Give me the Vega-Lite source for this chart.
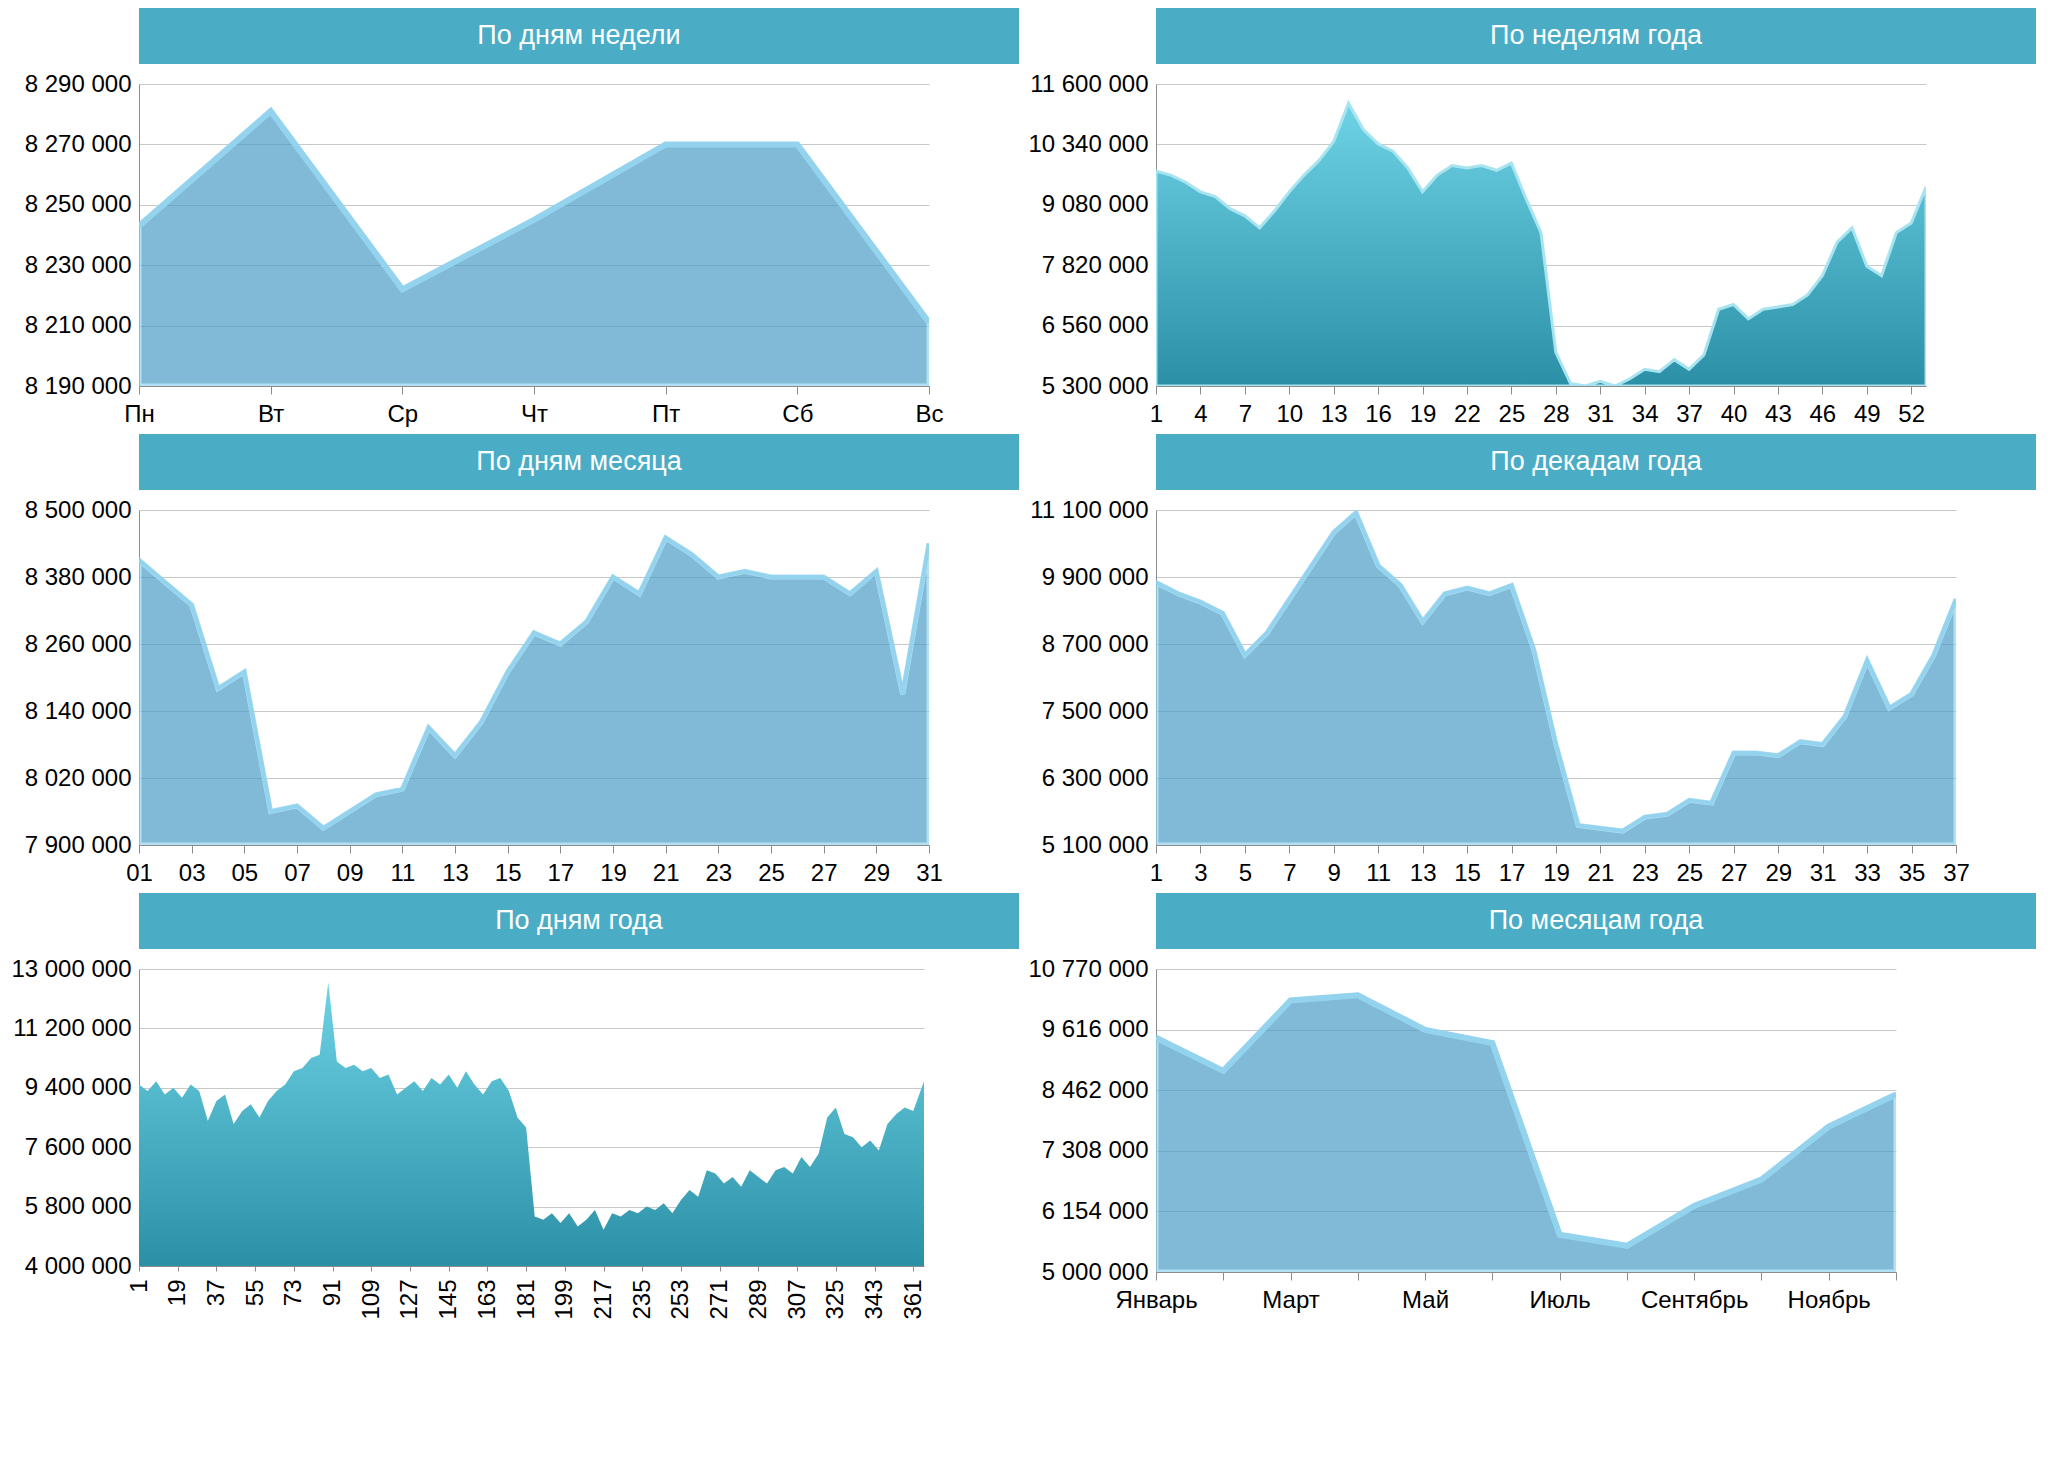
{
  "$schema": "https://vega.github.io/schema/vega-lite/v6.json",
  "background": "white",
  "padding": {"left": 10, "top": 8, "right": 5, "bottom": 5},
  "config": {
    "locale": {"number": {"decimal": ",", "thousands": " ", "grouping": [3], "currency": ["", ""]}},
    "font": "Liberation Sans",
    "view": {"stroke": null},
    "axis": {"labelFont": "Liberation Sans", "labelFontSize": 24, "labelColor": "#000", "title": null, "domainColor": "#8c8c8c", "tickColor": "#8c8c8c", "gridColor": "#c8c8c8", "labelPadding": 8},
    "axisY": {"format": ",d", "ticks": false, "domain": true},
    "axisX": {"grid": false, "tickSize": 8},
    "area": {"fill": "#4b9dc6", "stroke": "#93d3ee", "strokeWidth": 5, "clip": true, "opacity": 1, "fillOpacity": 1},
    "concat": {"spacing": 8}
  },
  "hconcat": [
    {
      "spacing": 8,
      "vconcat": [
        {"width": 880, "height": 56, "view": {"fill": "#4bacc6"}, "data": {"values": [{"t": "По дням недели"}]}, "mark": {"type": "text", "color": "white", "fontSize": 27}, "encoding": {"text": {"field": "t"}}},
        {
          "width": 790, "height": 302,
          "data": {"values": [
            {"d": "Пн", "v": 8243000}, {"d": "Вт", "v": 8281000}, {"d": "Ср", "v": 8222000}, {"d": "Чт", "v": 8245000},
            {"d": "Пт", "v": 8270000}, {"d": "Сб", "v": 8270000}, {"d": "Вс", "v": 8211000}]},
          "mark": {"type": "area", "clip": true, "line": {"stroke": "#93d3ee", "strokeWidth": 6}},
          "encoding": {
            "x": {"field": "d", "type": "ordinal", "sort": null, "scale": {"type": "point", "padding": 0}, "axis": {"labelAngle": 0}},
            "y": {"field": "v", "type": "quantitative", "stack": null, "scale": {"domain": [8190000, 8290000], "zero": false}, "axis": {"values": [8190000, 8210000, 8230000, 8250000, 8270000, 8290000]}}
          }
        },
        {"width": 880, "height": 56, "view": {"fill": "#4bacc6"}, "data": {"values": [{"t": "По дням месяца"}]}, "mark": {"type": "text", "color": "white", "fontSize": 27}, "encoding": {"text": {"field": "t"}}},
        {
          "width": 790, "height": 335,
          "data": {"values": [
            {"d": 1, "v": 8410000}, {"d": 2, "v": 8370000}, {"d": 3, "v": 8330000}, {"d": 4, "v": 8180000}, {"d": 5, "v": 8210000},
            {"d": 6, "v": 7960000}, {"d": 7, "v": 7970000}, {"d": 8, "v": 7930000}, {"d": 9, "v": 7960000}, {"d": 10, "v": 7990000},
            {"d": 11, "v": 8000000}, {"d": 12, "v": 8110000}, {"d": 13, "v": 8060000}, {"d": 14, "v": 8120000}, {"d": 15, "v": 8210000},
            {"d": 16, "v": 8280000}, {"d": 17, "v": 8260000}, {"d": 18, "v": 8300000}, {"d": 19, "v": 8380000}, {"d": 20, "v": 8350000},
            {"d": 21, "v": 8450000}, {"d": 22, "v": 8420000}, {"d": 23, "v": 8380000}, {"d": 24, "v": 8390000}, {"d": 25, "v": 8380000},
            {"d": 26, "v": 8380000}, {"d": 27, "v": 8380000}, {"d": 28, "v": 8350000}, {"d": 29, "v": 8390000}, {"d": 30, "v": 8170000},
            {"d": 31, "v": 8440000}]},
          "mark": {"type": "area", "clip": true, "line": {"stroke": "#93d3ee", "strokeWidth": 4}},
          "encoding": {
            "x": {"field": "d", "type": "quantitative", "scale": {"domain": [1, 31], "nice": false}, "axis": {"values": [1, 3, 5, 7, 9, 11, 13, 15, 17, 19, 21, 23, 25, 27, 29, 31], "labelExpr": "datum.value < 10 ? '0' + datum.value : '' + datum.value", "labelFlush": false}},
            "y": {"field": "v", "type": "quantitative", "stack": null, "scale": {"domain": [7900000, 8500000], "zero": false}, "axis": {"values": [7900000, 8020000, 8140000, 8260000, 8380000, 8500000]}}
          }
        },
        {"width": 880, "height": 56, "view": {"fill": "#4bacc6"}, "data": {"values": [{"t": "По дням года"}]}, "mark": {"type": "text", "color": "white", "fontSize": 27}, "encoding": {"text": {"field": "t"}}},
        {
          "width": 785, "height": 297,
          "data": {"values": [
            {"d": 1, "v": 9500000}, {"d": 5, "v": 9300000}, {"d": 9, "v": 9600000}, {"d": 13, "v": 9200000}, {"d": 17, "v": 9400000},
            {"d": 21, "v": 9100000}, {"d": 25, "v": 9500000}, {"d": 29, "v": 9300000}, {"d": 33, "v": 8400000}, {"d": 37, "v": 9000000},
            {"d": 41, "v": 9200000}, {"d": 45, "v": 8300000}, {"d": 49, "v": 8700000}, {"d": 53, "v": 8900000}, {"d": 57, "v": 8500000},
            {"d": 61, "v": 9000000}, {"d": 65, "v": 9300000}, {"d": 69, "v": 9500000}, {"d": 73, "v": 9900000}, {"d": 77, "v": 10000000},
            {"d": 81, "v": 10300000}, {"d": 85, "v": 10400000}, {"d": 89, "v": 12600000}, {"d": 93, "v": 10200000}, {"d": 97, "v": 10000000},
            {"d": 101, "v": 10100000}, {"d": 105, "v": 9900000}, {"d": 109, "v": 10000000}, {"d": 113, "v": 9700000}, {"d": 117, "v": 9800000},
            {"d": 121, "v": 9200000}, {"d": 125, "v": 9400000}, {"d": 129, "v": 9600000}, {"d": 133, "v": 9300000}, {"d": 137, "v": 9700000},
            {"d": 141, "v": 9500000}, {"d": 145, "v": 9800000}, {"d": 149, "v": 9400000}, {"d": 153, "v": 9900000}, {"d": 157, "v": 9500000},
            {"d": 161, "v": 9200000}, {"d": 165, "v": 9600000}, {"d": 169, "v": 9700000}, {"d": 173, "v": 9300000}, {"d": 177, "v": 8500000},
            {"d": 181, "v": 8200000}, {"d": 185, "v": 5500000}, {"d": 189, "v": 5400000}, {"d": 193, "v": 5600000}, {"d": 197, "v": 5300000},
            {"d": 201, "v": 5600000}, {"d": 205, "v": 5200000}, {"d": 209, "v": 5400000}, {"d": 213, "v": 5700000}, {"d": 217, "v": 5100000},
            {"d": 221, "v": 5600000}, {"d": 225, "v": 5500000}, {"d": 229, "v": 5700000}, {"d": 233, "v": 5600000}, {"d": 237, "v": 5800000},
            {"d": 241, "v": 5700000}, {"d": 245, "v": 5900000}, {"d": 249, "v": 5600000}, {"d": 253, "v": 6000000}, {"d": 257, "v": 6300000},
            {"d": 261, "v": 6100000}, {"d": 265, "v": 6900000}, {"d": 269, "v": 6800000}, {"d": 273, "v": 6500000}, {"d": 277, "v": 6700000},
            {"d": 281, "v": 6400000}, {"d": 285, "v": 6900000}, {"d": 289, "v": 6700000}, {"d": 293, "v": 6500000}, {"d": 297, "v": 6900000},
            {"d": 301, "v": 7000000}, {"d": 305, "v": 6800000}, {"d": 309, "v": 7300000}, {"d": 313, "v": 7000000}, {"d": 317, "v": 7400000},
            {"d": 321, "v": 8500000}, {"d": 325, "v": 8800000}, {"d": 329, "v": 8000000}, {"d": 333, "v": 7900000}, {"d": 337, "v": 7600000},
            {"d": 341, "v": 7800000}, {"d": 345, "v": 7500000}, {"d": 349, "v": 8300000}, {"d": 353, "v": 8600000}, {"d": 357, "v": 8800000},
            {"d": 361, "v": 8700000}, {"d": 366, "v": 9600000}]},
          "mark": {"type": "area", "clip": true, "stroke": null, "fill": {"gradient": "linear", "x1": 0, "y1": 0, "x2": 0, "y2": 1, "stops": [{"offset": 0, "color": "#6fd3e6"}, {"offset": 1, "color": "#2b8fa6"}]}},
          "encoding": {
            "x": {"field": "d", "type": "quantitative", "scale": {"domain": [1, 366], "nice": false}, "axis": {"values": [1, 19, 37, 55, 73, 91, 109, 127, 145, 163, 181, 199, 217, 235, 253, 271, 289, 307, 325, 343, 361], "labelAngle": -90, "labelFlush": false, "tickSize": 5}},
            "y": {"field": "v", "type": "quantitative", "stack": null, "scale": {"domain": [4000000, 13000000], "zero": false}, "axis": {"values": [4000000, 5800000, 7600000, 9400000, 11200000, 13000000]}}
          }
        }
      ]
    },
    {
      "spacing": 8,
      "vconcat": [
        {"width": 880, "height": 56, "view": {"fill": "#4bacc6"}, "data": {"values": [{"t": "По неделям года"}]}, "mark": {"type": "text", "color": "white", "fontSize": 27}, "encoding": {"text": {"field": "t"}}},
        {
          "width": 770, "height": 302,
          "data": {"values": [
            {"w": 1, "v": 9780000}, {"w": 2, "v": 9700000}, {"w": 3, "v": 9550000}, {"w": 4, "v": 9350000}, {"w": 5, "v": 9250000},
            {"w": 6, "v": 9000000}, {"w": 7, "v": 8850000}, {"w": 8, "v": 8600000}, {"w": 9, "v": 8950000}, {"w": 10, "v": 9350000},
            {"w": 11, "v": 9700000}, {"w": 12, "v": 10000000}, {"w": 13, "v": 10400000}, {"w": 14, "v": 11200000}, {"w": 15, "v": 10650000},
            {"w": 16, "v": 10350000}, {"w": 17, "v": 10200000}, {"w": 18, "v": 9850000}, {"w": 19, "v": 9350000}, {"w": 20, "v": 9700000},
            {"w": 21, "v": 9900000}, {"w": 22, "v": 9850000}, {"w": 23, "v": 9900000}, {"w": 24, "v": 9800000}, {"w": 25, "v": 9950000},
            {"w": 26, "v": 9200000}, {"w": 27, "v": 8500000}, {"w": 28, "v": 6000000}, {"w": 29, "v": 5350000}, {"w": 30, "v": 5300000},
            {"w": 31, "v": 5400000}, {"w": 32, "v": 5300000}, {"w": 33, "v": 5450000}, {"w": 34, "v": 5650000}, {"w": 35, "v": 5600000},
            {"w": 36, "v": 5850000}, {"w": 37, "v": 5650000}, {"w": 38, "v": 5950000}, {"w": 39, "v": 6900000}, {"w": 40, "v": 7000000},
            {"w": 41, "v": 6700000}, {"w": 42, "v": 6900000}, {"w": 43, "v": 6950000}, {"w": 44, "v": 7000000}, {"w": 45, "v": 7200000},
            {"w": 46, "v": 7600000}, {"w": 47, "v": 8300000}, {"w": 48, "v": 8600000}, {"w": 49, "v": 7800000}, {"w": 50, "v": 7600000},
            {"w": 51, "v": 8500000}, {"w": 52, "v": 8700000}, {"w": 53, "v": 9450000}]},
          "mark": {"type": "area", "clip": true, "stroke": "#a8e4f0", "strokeWidth": 3, "fill": {"gradient": "linear", "x1": 0, "y1": 0, "x2": 0, "y2": 1, "stops": [{"offset": 0, "color": "#6fd3e6"}, {"offset": 1, "color": "#2b8fa6"}]}},
          "encoding": {
            "x": {"field": "w", "type": "quantitative", "scale": {"domain": [1, 53], "nice": false}, "axis": {"values": [1, 4, 7, 10, 13, 16, 19, 22, 25, 28, 31, 34, 37, 40, 43, 46, 49, 52], "labelFlush": false}},
            "y": {"field": "v", "type": "quantitative", "stack": null, "scale": {"domain": [5300000, 11600000], "zero": false}, "axis": {"values": [5300000, 6560000, 7820000, 9080000, 10340000, 11600000]}}
          }
        },
        {"width": 880, "height": 56, "view": {"fill": "#4bacc6"}, "data": {"values": [{"t": "По декадам года"}]}, "mark": {"type": "text", "color": "white", "fontSize": 27}, "encoding": {"text": {"field": "t"}}},
        {
          "width": 800, "height": 335,
          "data": {"values": [
            {"k": 1, "v": 9800000}, {"k": 2, "v": 9600000}, {"k": 3, "v": 9450000}, {"k": 4, "v": 9250000}, {"k": 5, "v": 8500000},
            {"k": 6, "v": 8900000}, {"k": 7, "v": 9500000}, {"k": 8, "v": 10100000}, {"k": 9, "v": 10700000}, {"k": 10, "v": 11050000},
            {"k": 11, "v": 10100000}, {"k": 12, "v": 9750000}, {"k": 13, "v": 9100000}, {"k": 14, "v": 9600000}, {"k": 15, "v": 9700000},
            {"k": 16, "v": 9600000}, {"k": 17, "v": 9750000}, {"k": 18, "v": 8600000}, {"k": 19, "v": 6900000}, {"k": 20, "v": 5450000},
            {"k": 21, "v": 5400000}, {"k": 22, "v": 5350000}, {"k": 23, "v": 5600000}, {"k": 24, "v": 5650000}, {"k": 25, "v": 5900000},
            {"k": 26, "v": 5850000}, {"k": 27, "v": 6750000}, {"k": 28, "v": 6750000}, {"k": 29, "v": 6700000}, {"k": 30, "v": 6950000},
            {"k": 31, "v": 6900000}, {"k": 32, "v": 7400000}, {"k": 33, "v": 8400000}, {"k": 34, "v": 7550000}, {"k": 35, "v": 7800000},
            {"k": 36, "v": 8500000}, {"k": 37, "v": 9500000}]},
          "mark": {"type": "area", "clip": true, "line": {"stroke": "#93d3ee", "strokeWidth": 4}},
          "encoding": {
            "x": {"field": "k", "type": "quantitative", "scale": {"domain": [1, 37], "nice": false}, "axis": {"values": [1, 3, 5, 7, 9, 11, 13, 15, 17, 19, 21, 23, 25, 27, 29, 31, 33, 35, 37], "labelFlush": false}},
            "y": {"field": "v", "type": "quantitative", "stack": null, "scale": {"domain": [5100000, 11100000], "zero": false}, "axis": {"values": [5100000, 6300000, 7500000, 8700000, 9900000, 11100000]}}
          }
        },
        {"width": 880, "height": 56, "view": {"fill": "#4bacc6"}, "data": {"values": [{"t": "По месяцам года"}]}, "mark": {"type": "text", "color": "white", "fontSize": 27}, "encoding": {"text": {"field": "t"}}},
        {
          "width": 740, "height": 303,
          "data": {"values": [
            {"m": "Январь", "v": 9460000}, {"m": "Февраль", "v": 8830000}, {"m": "Март", "v": 10170000}, {"m": "Апрель", "v": 10270000},
            {"m": "Май", "v": 9610000}, {"m": "Июнь", "v": 9360000}, {"m": "Июль", "v": 5710000}, {"m": "Август", "v": 5500000},
            {"m": "Сентябрь", "v": 6260000}, {"m": "Октябрь", "v": 6760000}, {"m": "Ноябрь", "v": 7770000}, {"m": "Декабрь", "v": 8380000}]},
          "mark": {"type": "area", "clip": true, "line": {"stroke": "#93d3ee", "strokeWidth": 6}},
          "encoding": {
            "x": {"field": "m", "type": "ordinal", "sort": null, "scale": {"type": "point", "padding": 0}, "axis": {"labelAngle": 0, "labelExpr": "indexof(['Январь','Март','Май','Июль','Сентябрь','Ноябрь'], datum.value) >= 0 ? datum.value : ''"}},
            "y": {"field": "v", "type": "quantitative", "stack": null, "scale": {"domain": [5000000, 10770000], "zero": false}, "axis": {"values": [5000000, 6154000, 7308000, 8462000, 9616000, 10770000]}}
          }
        }
      ]
    }
  ]
}
